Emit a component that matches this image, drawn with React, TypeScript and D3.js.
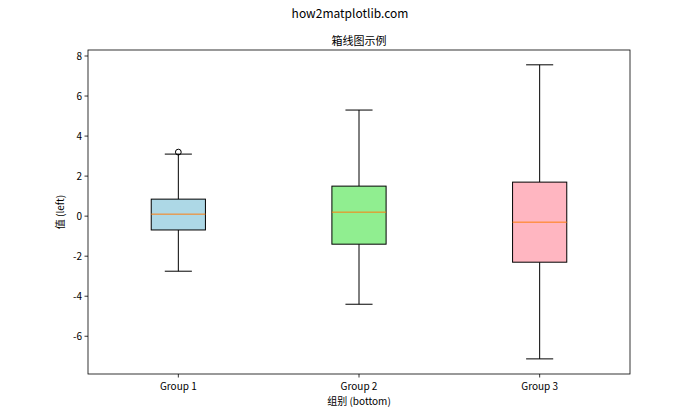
import React from "react";
import * as d3 from "d3";

const categories = ["Group 1", "Group 2", "Group 3"];
const q1 = [-0.69, -1.4, -2.3];
const medians = [0.1, 0.2, -0.3];
const q3 = [0.85, 1.5, 1.7];
const whiskerLow = [-2.75, -4.4, -7.13];
const whiskerHigh = [3.1, 5.3, 7.56];
const outliers = [[3.2], [], []];
const colors = ["#add8e6", "#90ee90", "#ffb6c1"];
const yTicks = [-6, -4, -2, 0, 2, 4, 6, 8];

const W = 700, H = 420;
const M = { left: 88, right: 630, top: 50, bottom: 374 };
const FONT = "'Noto Sans CJK SC', 'DejaVu Sans', sans-serif";

export default function App() {
  const x = d3.scaleLinear().domain([0.5, 3.5]).range([M.left, M.right]);
  const y = d3.scaleLinear().domain([-7.885, 8.3]).range([M.bottom, M.top]);
  const boxW = x(1.3) - x(1);
  const capW = boxW / 2;
  return (
    <svg width={W} height={H} style={{ position: "absolute", left: 0, top: 0, background: "#fff" }} fontFamily={FONT}>
      <rect x={0} y={0} width={W} height={H} fill="#fff" />
      <text x={350} y={18} textAnchor="middle" fontSize={12} fill="#000">how2matplotlib.com</text>
      <text x={(M.left + M.right) / 2} y={45} textAnchor="middle" fontSize={11} fill="#000">箱线图示例</text>
      {categories.map((c, i) => {
        const cx = x(i + 1);
        return (
          <g key={c}>
            <line x1={cx} x2={cx} y1={y(q3[i])} y2={y(whiskerHigh[i])} stroke="#000" strokeWidth={1} />
            <line x1={cx} x2={cx} y1={y(q1[i])} y2={y(whiskerLow[i])} stroke="#000" strokeWidth={1} />
            <line x1={cx - capW / 2} x2={cx + capW / 2} y1={y(whiskerHigh[i])} y2={y(whiskerHigh[i])} stroke="#000" strokeWidth={1} />
            <line x1={cx - capW / 2} x2={cx + capW / 2} y1={y(whiskerLow[i])} y2={y(whiskerLow[i])} stroke="#000" strokeWidth={1} />
            <rect x={cx - boxW / 2} y={y(q3[i])} width={boxW} height={y(q1[i]) - y(q3[i])} fill={colors[i]} stroke="#000" strokeWidth={1} />
            <line x1={cx - boxW / 2} x2={cx + boxW / 2} y1={y(medians[i])} y2={y(medians[i])} stroke="#ff7f0e" strokeWidth={1} />
            {outliers[i].map((o, j) => (
              <circle key={j} cx={cx} cy={y(o)} r={2.9} fill="none" stroke="#000" strokeWidth={1} />
            ))}
            <line x1={cx} x2={cx} y1={M.bottom} y2={M.bottom + 3.5} stroke="#000" strokeWidth={0.8} />
            <text x={cx} y={M.bottom + 16} textAnchor="middle" fontSize={10} fill="#000">{c}</text>
          </g>
        );
      })}
      {yTicks.map((t) => (
        <g key={t}>
          <line x1={M.left - 3.5} x2={M.left} y1={y(t)} y2={y(t)} stroke="#000" strokeWidth={0.8} />
          <text x={M.left - 6} y={y(t)} dy="0.35em" textAnchor="end" fontSize={10} fill="#000">{t}</text>
        </g>
      ))}
      <rect x={M.left} y={M.top} width={M.right - M.left} height={M.bottom - M.top} fill="none" stroke="#000" strokeWidth={0.8} />
      <text x={(M.left + M.right) / 2} y={405} textAnchor="middle" fontSize={10} fill="#000">组别 (bottom)</text>
      <text transform={`translate(64,${(M.top + M.bottom) / 2}) rotate(-90)`} textAnchor="middle" fontSize={10} fill="#000">值 (left)</text>
    </svg>
  );
}
